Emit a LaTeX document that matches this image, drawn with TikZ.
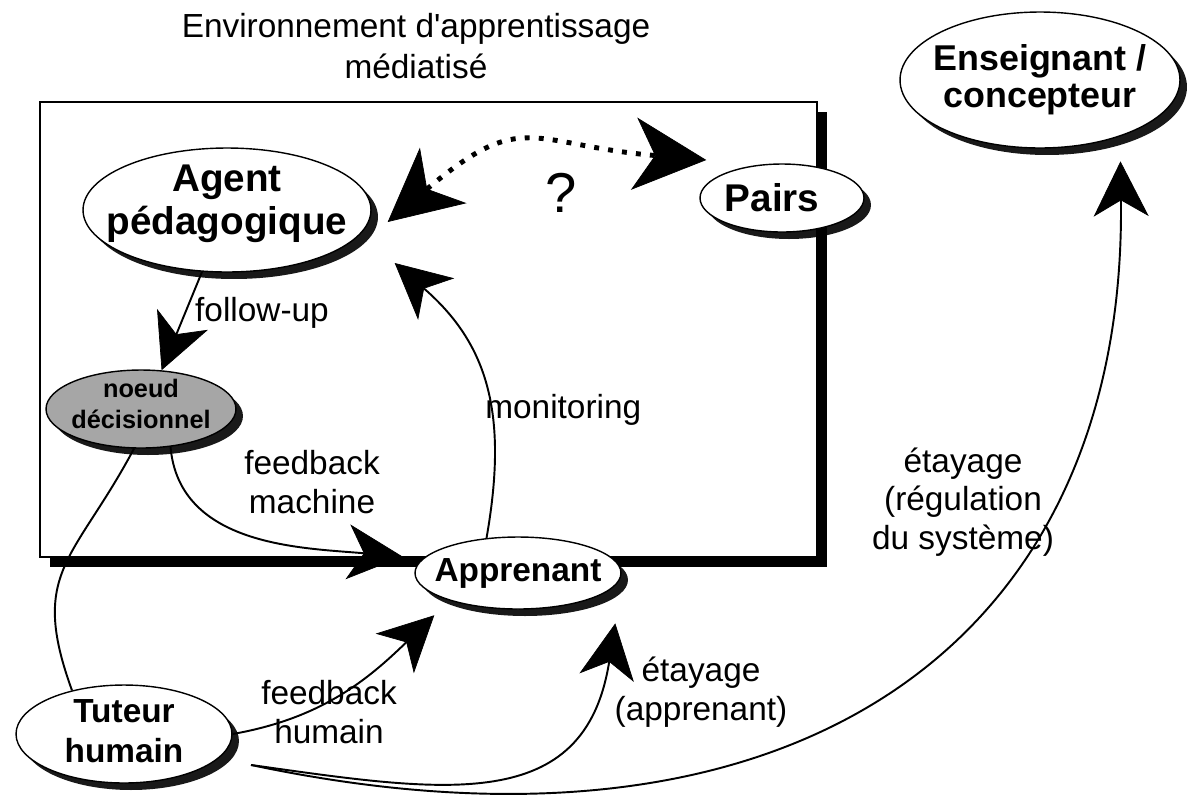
\documentclass[tikz,border=0pt]{standalone}
\usepackage{fontspec}
\setmainfont{Liberation Sans}
\usetikzlibrary{positioning, shapes.geometric, arrows.meta, shadows, calc}

\tikzset{
  bubble/.style={ellipse, draw, line width=0.8pt, fill=white, inner sep=0pt,
    drop shadow={shadow xshift=0.14cm, shadow yshift=-0.14cm, fill=black, opacity=0.9}},
  bubtext/.style 2 args={align=center, inner sep=0pt, font=\bfseries\fontsize{#1}{#2}\selectfont},
  lbl/.style={align=center, inner sep=0pt, font=\fontsize{19}{22}\selectfont},
  link/.style={line width=1.1pt, -{Stealth[length=1.1cm, width=1.1cm, inset=0.32cm, line width=0.4pt]}},
  plain/.style={line width=1.1pt},
  dotlink/.style={line width=2.8pt, dash pattern=on 2.8pt off 5.2pt,
    {Stealth[length=1.45cm, width=1.45cm, inset=0.42cm, line width=0.4pt]}-{Stealth[length=1.45cm, width=1.45cm, inset=0.42cm, line width=0.4pt]}}
}

\begin{document}
\begin{tikzpicture}[x=0.02cm, y=-0.02cm]
  \useasboundingbox (0,0) rectangle (1194,796);

  % Environment frame
  \node[lbl, font=\fontsize{19}{23.8}\selectfont] (title) at (416,46) {Environnement d\textquotesingle apprentissage\\médiatisé};
  \draw[line width=0.8pt, fill=white, drop shadow={shadow xshift=0.2cm, shadow yshift=-0.2cm, fill=black, opacity=1}]
    (40,102) rectangle (817,557);

  % Actors
  \node[bubble, minimum width=5.76cm, minimum height=2.48cm,
    label={[bubtext={22}{24.5}, yshift=0.12cm]center:Agent\\pédagogique}] (agent) at (227,210) {};
  \node[bubble, minimum width=3.28cm, minimum height=1.36cm,
    label={[bubtext={22}{24.5}, xshift=-0.2cm]center:Pairs}] (pairs) at (782,198) {};
  \node[bubble, minimum width=5.6cm, minimum height=2.72cm,
    label={[bubtext={20.4}{21}]center:Enseignant /\\concepteur}] (ens) at (1040,80) {};
  \node[bubble, fill=black!35, minimum width=3.8cm, minimum height=1.56cm,
    label={[bubtext={14.4}{17.6}, yshift=0.1cm]center:noeud\\décisionnel}] (noeud) at (141,409) {};
  \node[bubble, minimum width=4.12cm, minimum height=1.44cm,
    label={[bubtext={19}{22}]center:Apprenant}] (appr) at (518,573) {};
  \node[bubble, minimum width=4.32cm, minimum height=1.96cm,
    label={[bubtext={19}{22.7}, yshift=0.06cm]center:Tuteur\\humain}] (tuteur) at (124,734) {};

  % Labels
  \node[lbl, font=\fontsize{32}{36}\selectfont] (quest) at (561,193) {?};
  \node[lbl] (lblfollow) at (262,313) {follow-up};
  \node[lbl] (lblfbm) at (312,482) {feedback\\machine};
  \node[lbl, anchor=west] (lblmon) at (485,410) {monitoring};
  \node[lbl] (lblfbh) at (329,712) {feedback\\humain};
  \node[lbl] (lbletapp) at (701,692) {étayage\\(apprenant)};
  \node[lbl] (lbletreg) at (963,502) {étayage\\(régulation\\du système)};

  % Connectors
  \draw[dotlink] ([xshift=0.32cm, yshift=-0.24cm]agent.east) to[out=40, in=175, looseness=1.4] ([xshift=0.14cm, yshift=0.76cm]pairs.west);
  \draw[link] (agent.248) -- (noeud.62);
  \draw[link] (noeud.-52) to[out=-85, in=175] ([xshift=-0.45cm]appr.170);
  \draw[link] (appr.132) to[out=80, in=-41, looseness=1.1] ([xshift=0.46cm, yshift=-1.06cm]agent.east);
  \draw[plain] (noeud.-100) to[out=-118, in=110, looseness=1.3] (tuteur.140);
  \draw[link] (tuteur.east) to[out=10, in=-136] ([xshift=-0.42cm, yshift=-0.26cm]appr.205);
  \draw[link] ([xshift=0.84cm]tuteur.-20) .. controls +(-8:3.9cm) and +(-99:3.9cm) .. ([xshift=0.5cm, yshift=-0.48cm]appr.-20);
  \draw[link] ([xshift=0.84cm]tuteur.-20) .. controls +(-12:11cm) and +(-89.3:9.74cm) .. ([yshift=-0.5cm]ens.-35);
\end{tikzpicture}
\end{document}
